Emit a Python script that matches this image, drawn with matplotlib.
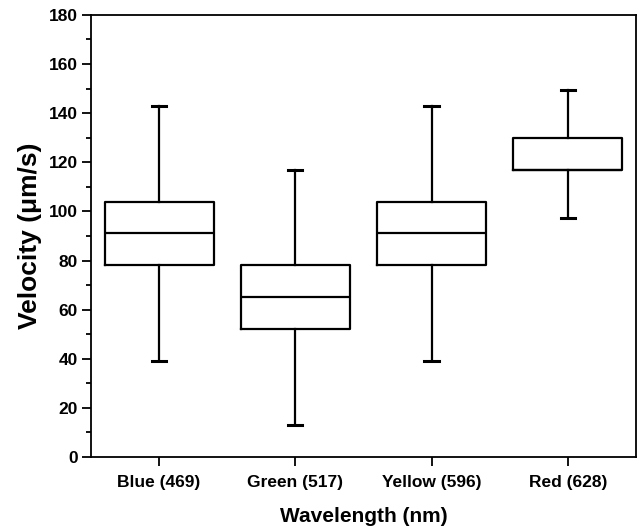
import matplotlib
matplotlib.use("Agg")
import matplotlib.pyplot as plt
from matplotlib.ticker import MultipleLocator

plt.rcParams["font.family"] = ["Liberation Sans", "DejaVu Sans"]
plt.rcParams["font.weight"] = "bold"

# Box statistics
labels = ["Blue (469)", "Green (517)", "Yellow (596)", "Red (628)"]
whis_low = [39, 13, 39, 97.5]
q1 = [78, 52, 78, 117]
median = [91, 65, 91, 117]
q3 = [104, 78, 104, 130]
whis_high = [143, 117, 143, 149.5]

stats = []
for i, lab in enumerate(labels):
    stats.append({"label": lab, "whislo": whis_low[i], "q1": q1[i], "med": median[i],
                  "q3": q3[i], "whishi": whis_high[i], "fliers": []})

fig = plt.figure(figsize=(6.38, 5.32), dpi=100)
ax = fig.add_axes([0.1426, 0.141, 0.854, 0.831])

lw = 1.6
ax.bxp(stats, positions=[1, 2, 3, 4], widths=0.8, showfliers=False,
       boxprops=dict(color="black", linewidth=lw),
       medianprops=dict(color="black", linewidth=lw),
       whiskerprops=dict(color="black", linewidth=lw),
       capprops=dict(color="black", linewidth=2.2),
       capwidths=0.105)

ax.set_xlim(0.5, 4.5)
ax.set_ylim(0, 180)
ax.yaxis.set_major_locator(MultipleLocator(20))
ax.yaxis.set_minor_locator(MultipleLocator(10))
ax.tick_params(axis="y", which="major", direction="out", length=6.5, width=1.3, labelsize=12.5, pad=3)
ax.tick_params(axis="y", which="minor", direction="out", length=3.5, width=1.3)
ax.tick_params(axis="x", which="major", direction="out", length=6.5, width=1.3, labelsize=12.5, pad=6.5)
ax.tick_params(top=False, right=False)
for s in ax.spines.values():
    s.set_linewidth(1.3)

ax.set_xlabel("Wavelength (nm)", fontsize=15, fontweight="bold", labelpad=12)
ax.set_ylabel("Velocity (\u03bcm/s)", fontsize=19, fontweight="bold", labelpad=5)

plt.savefig("out.png", dpi=100)
